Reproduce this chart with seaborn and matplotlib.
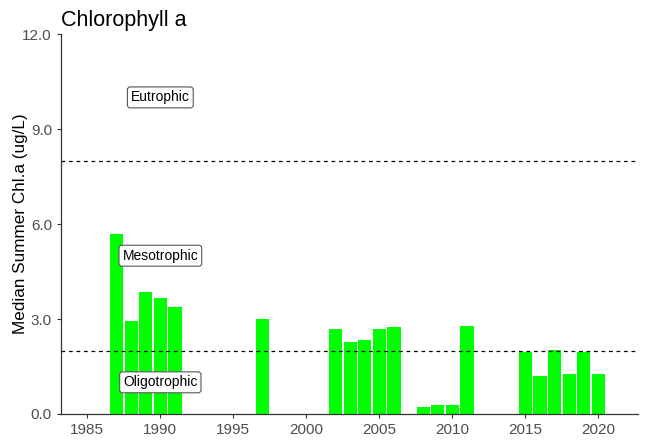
import numpy as np
import pandas as pd
import matplotlib
matplotlib.use('Agg')
import matplotlib.pyplot as plt
import seaborn as sns

# --- data ---
years = [1987, 1988, 1989, 1990, 1991, 1997, 2002, 2003, 2004, 2005, 2006,
         2008, 2009, 2010, 2011, 2015, 2016, 2017, 2018, 2019, 2020]
chla = [5.68, 2.94, 3.85, 3.66, 3.37, 3.00, 2.67, 2.27, 2.33, 2.67, 2.74,
        0.23, 0.27, 0.27, 2.78, 1.97, 1.19, 2.02, 1.27, 1.97, 1.27]
thresholds = [2, 8]
zone_labels = ['Eutrophic', 'Mesotrophic', 'Oligotrophic']
zone_y = [10, 5, 1]
label_year = 1990

df = pd.DataFrame({'year': years, 'chla': chla})

sns.set_style('white')
plt.rcParams['font.family'] = ['Arial', 'Liberation Sans', 'DejaVu Sans']

fig = plt.figure(figsize=(6.45, 4.43), dpi=100)
ax = fig.add_axes([0.0946, 0.0655, 0.8944, 0.8575])

sns.barplot(data=df, x='year', y='chla', native_scale=True, color='#00FF00',
            saturation=1, width=0.9, edgecolor='none', ax=ax)

for t in thresholds:
    ax.axhline(t, color='black', linestyle=(0, (3, 3)), linewidth=0.9)

for lab, yy in zip(zone_labels, zone_y):
    ax.text(label_year, yy, lab, ha='center', va='center', fontsize=10,
            color='black',
            bbox=dict(boxstyle='round,pad=0.25,rounding_size=0.2',
                      facecolor='white', edgecolor='#555555', linewidth=0.8))

ax.set_xlim(1983.2, 2022.7)
ax.set_ylim(0, 12)
ax.set_xticks([1985, 1990, 1995, 2000, 2005, 2010, 2015, 2020])
ax.set_yticks([0, 3, 6, 9, 12])
ax.set_yticklabels([f'{v:.1f}' for v in [0, 3, 6, 9, 12]])
ax.set_xlabel('')
ax.set_ylabel('Median Summer Chl.a (ug/L)', fontsize=12.3, color='black')
ax.yaxis.set_label_coords(-0.058, 0.5)
ax.set_title('Chlorophyll a', loc='left', fontsize=15.5, pad=6, color='black')

for s in ['top', 'right']:
    ax.spines[s].set_visible(False)
for s in ['left', 'bottom']:
    ax.spines[s].set_color('#333333')
    ax.spines[s].set_linewidth(0.9)
ax.tick_params(axis='both', direction='out', length=3, width=0.8,
               color='#333333', labelcolor='#4d4d4d', labelsize=11,
               bottom=True, left=True)

plt.savefig('out.png', dpi=100)
